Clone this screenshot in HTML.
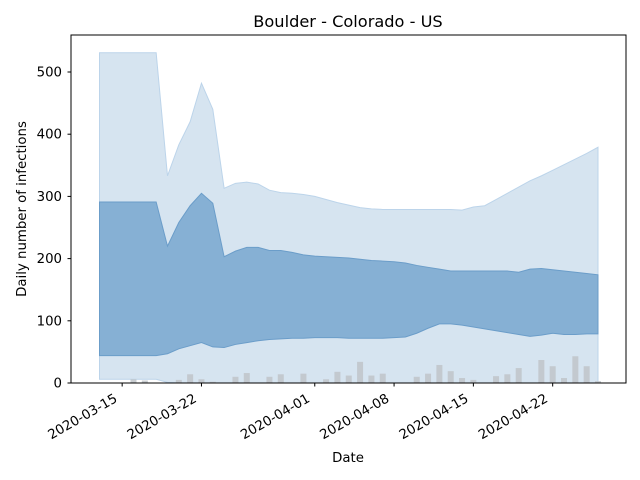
<!DOCTYPE html>
<html><head><meta charset="utf-8"><style>
body{margin:0;background:#fff;}
svg{display:block;font-family:"DejaVu Sans","Liberation Sans",sans-serif;}
</style></head><body>
<svg id="chart" width="640" height="480" xmlns="http://www.w3.org/2000/svg">
<text x="348" y="27" font-size="16.2" text-anchor="middle">Boulder - Colorado - US</text>
<g id="plot"></g>
<g id="axes"></g>
<text x="348" y="462" font-size="13.3" text-anchor="middle">Date</text>
<text x="0" y="0" font-size="13.3" text-anchor="middle" transform="translate(26,209) rotate(-90)">Daily number of infections</text>
</svg>
<script>
const cases = [0,0,0,6,4,0,0,5,14,6,2,0,10,16,0,10,14,0,15,0,6,18,12,34,12,15,0,0,10,15,29,19,8,5,0,11,14,24,0,37,27,8,43,27,3];
const lowerOuter = [6,6,6,6,6,6,1,0,0,0,0,0,0,0,0,0,0,0,0,0,0,0,0,0,0,0,0,0,0,0,0,0,0,0,0,0,0,0,0,0,0,0,0,0,0];
const lowerInner = [44,44,44,44,44,44,47,55,60,65,58,57,62,65,68,70,71,72,72,73,73,73,72,72,72,72,73,74,80,88,95,95,93,90,87,84,81,78,75,77,80,78,78,79,79];
const upperInner = [291,291,291,291,291,291,220,258,285,305,289,203,212,218,218,213,213,210,206,204,203,202,201,199,197,196,195,193,189,186,183,180,180,180,180,180,180,178,183,184,182,180,178,176,174];
const upperOuter = [531,531,531,531,531,531,333,383,420,482,440,313,321,323,320,310,306,305,303,300,295,290,286,282,280,279,279,279,279,279,279,279,278,283,285,295,305,315,325,333,342,351,360,369,379];
const yTicks = [0,100,200,300,400,500];
const xTickDays = [2,9,19,26,33,40];
const xTickLabels = ["2020-03-15","2020-03-22","2020-04-01","2020-04-08","2020-04-15","2020-04-22"];

const NS="http://www.w3.org/2000/svg";
const X0=71,X1=626,Y0=35,Y1=383;
function xs(d){return 99.5+d*(498.5/44);}
function ys(v){return 383-v*0.622;}
function mk(tag,attrs,parent){const e=document.createElementNS(NS,tag);for(const k in attrs)e.setAttribute(k,attrs[k]);parent.appendChild(e);return e;}
const plot=document.getElementById('plot'),axes=document.getElementById('axes');
function band(lo,hi,fill,stroke){
  let pts=hi.map((v,i)=>xs(i)+','+ys(v));
  for(let i=lo.length-1;i>=0;i--)pts.push(xs(i)+','+ys(lo[i]));
  return mk('polygon',{points:pts.join(' '),fill:fill,stroke:stroke,'stroke-width':1},plot);
}
const b1=band(lowerOuter,upperOuter,'#d6e4f0','#bcd4ea');


const b2=band(lowerInner,upperInner,'#86b0d4','#6b9dc9');


cases.forEach((v,i)=>{
  if(v<=0)return;
  const r=mk('rect',{x:xs(i)-3,y:ys(v),width:6,height:ys(0)-ys(v),fill:'#bfc4c9',opacity:0.85},plot);
  
  
});
const fr=mk('rect',{x:X0,y:Y0,width:X1-X0,height:Y1-Y0,fill:'none',stroke:'#000','stroke-width':1},axes);


yTicks.forEach(v=>{
  mk('line',{x1:X0-3.5,x2:X0,y1:ys(v),y2:ys(v),stroke:'#000'},axes);
  const t=mk('text',{x:X0-9,y:ys(v)+4.5,'font-size':13.3,'text-anchor':'end'},axes);
  t.textContent=v;
  
  
});
xTickDays.forEach((d,i)=>{
  const x=xs(d);
  mk('line',{x1:x,x2:x,y1:Y1,y2:Y1+3.5,stroke:'#000'},axes);
  const t=mk('text',{x:0,y:0,'font-size':13.3,'text-anchor':'end',transform:'translate('+(x-4)+','+(Y1+18)+') rotate(-30)'},axes);
  t.textContent=xTickLabels[i];
  
  
});
</script>
</body></html>
